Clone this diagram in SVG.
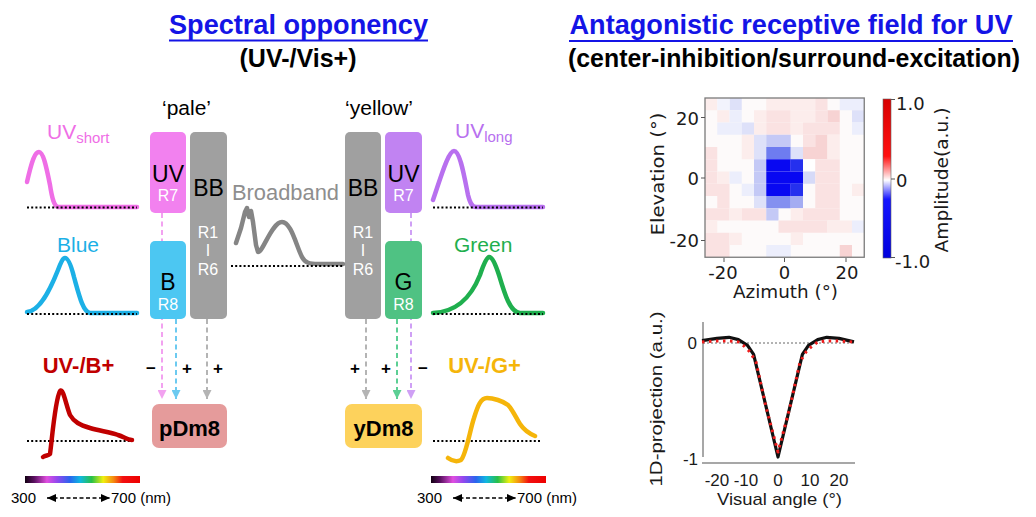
<svg xmlns="http://www.w3.org/2000/svg" width="1036" height="517" viewBox="0 0 1036 517">
<style>
text{font-family:"Liberation Sans",Arial,sans-serif;}
.t{font-weight:bold;font-size:27px;fill:#1414e6;text-anchor:middle;}
.st{font-weight:bold;font-size:25px;fill:#000;text-anchor:middle;}
.lab{font-size:20.5px;fill:#000;text-anchor:middle;}
.big{font-size:23px;fill:#000;text-anchor:middle;}
.rn{font-size:16px;fill:#fff;text-anchor:middle;}
.sign{font-size:17px;font-weight:bold;fill:#000;text-anchor:middle;}
.nm{font-size:15px;fill:#000;}
.dot{fill:none;stroke:#000;stroke-width:2;stroke-dasharray:2 2.2;}
.sp{fill:none;stroke-width:4.5;stroke-linecap:round;stroke-linejoin:round;}
.dj{font-family:"DejaVu Sans",sans-serif;font-size:18px;fill:#1a1a1a;}
.ar{font-family:"Liberation Sans",Arial,sans-serif;font-size:17px;fill:#1a1a1a;}
.con{fill:none;stroke-width:2;stroke-dasharray:5 3.5;}
</style>
<defs>
<linearGradient id="spec" x1="0" y1="0" x2="1" y2="0">
<stop offset="0" stop-color="#120012"/>
<stop offset="0.08" stop-color="#5a1060"/>
<stop offset="0.19" stop-color="#e04ee0"/>
<stop offset="0.28" stop-color="#9248ee"/>
<stop offset="0.39" stop-color="#2a64ee"/>
<stop offset="0.48" stop-color="#10b8e0"/>
<stop offset="0.58" stop-color="#28c048"/>
<stop offset="0.68" stop-color="#f0f010"/>
<stop offset="0.77" stop-color="#f58a10"/>
<stop offset="0.85" stop-color="#f21010"/>
<stop offset="1" stop-color="#ee0000"/>
</linearGradient>
<linearGradient id="cbar" x1="0" y1="0" x2="0" y2="1">
<stop offset="0" stop-color="#d80000"/>
<stop offset="0.36" stop-color="#ff1010"/>
<stop offset="0.51" stop-color="#ffffff"/>
<stop offset="0.63" stop-color="#1515ff"/>
<stop offset="1" stop-color="#0000dd"/>
</linearGradient>
<marker id="mPink" markerUnits="userSpaceOnUse" markerWidth="9" markerHeight="9" refX="9" refY="4.5" orient="auto"><path d="M0,0 L9,4.5 L0,9 z" fill="#f2a2f0"/></marker>
<marker id="mBlue" markerUnits="userSpaceOnUse" markerWidth="9" markerHeight="9" refX="9" refY="4.5" orient="auto"><path d="M0,0 L9,4.5 L0,9 z" fill="#6ccaf0"/></marker>
<marker id="mGray" markerUnits="userSpaceOnUse" markerWidth="9" markerHeight="9" refX="9" refY="4.5" orient="auto"><path d="M0,0 L9,4.5 L0,9 z" fill="#b4b4b4"/></marker>
<marker id="mGreen" markerUnits="userSpaceOnUse" markerWidth="9" markerHeight="9" refX="9" refY="4.5" orient="auto"><path d="M0,0 L9,4.5 L0,9 z" fill="#5ccf94"/></marker>
<marker id="mPurple" markerUnits="userSpaceOnUse" markerWidth="9" markerHeight="9" refX="9" refY="4.5" orient="auto"><path d="M0,0 L9,4.5 L0,9 z" fill="#cfa0f5"/></marker>
<marker id="mBlack" markerUnits="userSpaceOnUse" markerWidth="9" markerHeight="8" refX="9" refY="4" orient="auto-start-reverse"><path d="M0,0 L9,4 L0,8 z" fill="#000"/></marker>
</defs>
<rect width="1036" height="517" fill="#fff"/>

<g id="title-left">
<text class="t" x="298.5" y="34" textLength="259" lengthAdjust="spacingAndGlyphs">Spectral opponency</text>
<rect x="169" y="39.5" width="259" height="2" fill="#1414e6"/>
<text class="st" x="298" y="67">(UV-/Vis+)</text>
</g>
<g id="title-right">
<text class="t" x="791" y="34" textLength="443" lengthAdjust="spacingAndGlyphs">Antagonistic receptive field for UV</text>
<rect x="569" y="40" width="444" height="2" fill="#1414e6"/>
<text class="st" x="794" y="67" textLength="452" lengthAdjust="spacingAndGlyphs">(center-inhibition/surround-excitation)</text>
</g>

<g id="connectors">
<path class="con" stroke="#f2a2f0" d="M162,213 V399" marker-end="url(#mPink)"/>
<path class="con" stroke="#6ccaf0" d="M176,319 V399" marker-end="url(#mBlue)"/>
<path class="con" stroke="#b4b4b4" d="M207,319 V399" marker-end="url(#mGray)"/>
<path class="con" stroke="#b4b4b4" d="M366,319 V399" marker-end="url(#mGray)"/>
<path class="con" stroke="#5ccf94" d="M397,319 V399" marker-end="url(#mGreen)"/>
<path class="con" stroke="#cfa0f5" d="M411,213 V399" marker-end="url(#mPurple)"/>
<text class="sign" x="151" y="374">−</text>
<text class="sign" x="187" y="374">+</text>
<text class="sign" x="218" y="374">+</text>
<text class="sign" x="355" y="374">+</text>
<text class="sign" x="386" y="374">+</text>
<text class="sign" x="423" y="374">−</text>
</g>

<g id="label-pale"><text class="lab" x="186.5" y="115" textLength="49" lengthAdjust="spacingAndGlyphs">‘pale’</text></g>
<g id="label-yellow"><text class="lab" x="379" y="115" textLength="68" lengthAdjust="spacingAndGlyphs">‘yellow’</text></g>

<g id="pale-uv-r7">
<rect x="150" y="132" width="36" height="81" rx="5" fill="#f281ef"/>
<text class="big" x="168" y="182">UV</text>
<text class="rn" x="168" y="201">R7</text>
</g>
<g id="pale-b-r8">
<rect x="150" y="241" width="36" height="78" rx="5" fill="#4cc7f2"/>
<text class="big" x="168" y="290">B</text>
<text class="rn" x="168" y="310">R8</text>
</g>
<g id="pale-bb">
<rect x="190" y="132" width="37" height="187" rx="5" fill="#a0a0a0"/>
<text class="big" x="208.5" y="196">BB</text>
<text class="rn" x="208" y="238">R1</text>
<text class="rn" x="208" y="256">I</text>
<text class="rn" x="208" y="275">R6</text>
</g>
<g id="yellow-bb">
<rect x="345" y="132" width="36" height="187" rx="5" fill="#a0a0a0"/>
<text class="big" x="363" y="196">BB</text>
<text class="rn" x="363" y="238">R1</text>
<text class="rn" x="363" y="256">I</text>
<text class="rn" x="363" y="275">R6</text>
</g>
<g id="yellow-uv-r7">
<rect x="385" y="132" width="37" height="81" rx="5" fill="#c183f2"/>
<text class="big" x="403.5" y="182">UV</text>
<text class="rn" x="403.5" y="201">R7</text>
</g>
<g id="yellow-g-r8">
<rect x="385" y="241" width="37" height="78" rx="5" fill="#4fc283"/>
<text class="big" x="403.5" y="290">G</text>
<text class="rn" x="403.5" y="310">R8</text>
</g>

<g id="pdm8">
<rect x="152" y="404" width="75" height="44" rx="7" fill="#e59b9b"/>
<text x="189.5" y="436" font-size="22" font-weight="bold" text-anchor="middle" fill="#000">pDm8</text>
</g>
<g id="ydm8">
<rect x="345" y="404" width="77" height="44" rx="7" fill="#fdd25c"/>
<text x="383.5" y="436" font-size="22" font-weight="bold" text-anchor="middle" fill="#000">yDm8</text>
</g>

<g id="broadband">
<text x="232" y="200" font-size="22" fill="#8e8e8e" textLength="107" lengthAdjust="spacingAndGlyphs">Broadband</text>
<path class="sp" stroke="#858585" stroke-width="5" d="M236,243 L241,228 L245,212 L247,208 L249,217 L251,211 L253,222 L256,245 L258,252 C263,252 272,222 282,222 C291,222 296,245 302,257 C305,263 310,264 318,264 L343,264"/>
<path class="dot" d="M231,266 H343"/>
</g>

<g id="spec-uv-short">
<text x="47" y="139" font-size="21" fill="#ef6ee6">UV<tspan font-size="15" dy="4">short</tspan></text>
<path class="sp" stroke="#ef6ee6" d="M27,182 C32,160 35,152 39,152 C43,152 46,165 50,185 C52,198 54,206 58,207 L137,207"/>
<path class="dot" d="M27,207.5 H137"/>
</g>
<g id="spec-blue">
<text x="57" y="252" font-size="21" fill="#1cb0e6">Blue</text>
<path class="sp" stroke="#1cb0e6" d="M27,312 C40,311 50,290 58,270 C61,262 63,258 65,258 C68,258 71,265 74,277 C79,295 83,312 90,313 L137,313"/>
<path class="dot" d="M27,314 H137"/>
</g>
<g id="spec-uv-long">
<text x="455" y="138" font-size="21" fill="#b870ef">UV<tspan font-size="15" dy="4">long</tspan></text>
<path class="sp" stroke="#b870ef" d="M433,200 C440,180 448,151 454,151 C460,151 464,175 468,195 C470,203 472,207 476,207 L543,207"/>
<path class="dot" d="M433,207.5 H543"/>
</g>
<g id="spec-green">
<text x="454" y="252" font-size="21" fill="#1faf4e">Green</text>
<path class="sp" stroke="#1faf4e" d="M433,313 C455,312 470,300 480,275 C484,263 487,257 489,257 C492,257 495,263 499,275 C505,295 510,312 520,313 L543,313"/>
<path class="dot" d="M433,314 H543"/>
</g>

<g id="resp-uvb">
<text x="78.5" y="373" font-size="22" font-weight="bold" fill="#c00000" text-anchor="middle">UV-/B+</text>
<path class="dot" d="M27,441 H133"/>
<path class="sp" stroke="#c00000" d="M43,457 C46,455 48,456 50,454 C52,440 55,400 60,391 C63,387 66,405 70,415 C74,422 80,425 90,428 C100,431 110,432 118,435 C124,437 128,440 132,440"/>
<rect x="25" y="476" width="115" height="7" fill="url(#spec)"/>
<text class="nm" x="11" y="503">300</text>
<path d="M47,498 H110" stroke="#000" stroke-width="1.6" stroke-dasharray="4 2.5" marker-start="url(#mBlack)" marker-end="url(#mBlack)"/>
<text class="nm" x="111" y="503">700 (nm)</text>
</g>
<g id="resp-uvg">
<text x="484.5" y="373" font-size="22" font-weight="bold" fill="#f5b50a" text-anchor="middle">UV-/G+</text>
<path class="dot" d="M433,441 H540"/>
<path class="sp" stroke="#f5b50a" d="M448,458 C452,461 457,462 461,460 C466,455 470,430 474,418 C478,405 481,398 487,398 C493,398 503,401 508,405 C513,410 516,418 520,424 C524,430 528,433 535,436"/>
<rect x="431" y="476" width="115" height="7" fill="url(#spec)"/>
<text class="nm" x="417" y="503">300</text>
<path d="M453,498 H516" stroke="#000" stroke-width="1.6" stroke-dasharray="4 2.5" marker-start="url(#mBlack)" marker-end="url(#mBlack)"/>
<text class="nm" x="517" y="503">700 (nm)</text>
</g>

<g id="heatmap">
<g transform="translate(705,98) scale(12.25)">
<g id="hm-cells">
<rect x="0" y="0" width="13" height="13" fill="#fdfafa"/>
<rect x="0" y="0" width="1" height="1" fill="#fcedec"/><rect x="2" y="0" width="1" height="1" fill="#dee1f9"/><rect x="5" y="0" width="4" height="1" fill="#fcedec"/><rect x="9" y="0" width="1" height="1" fill="#fae2e2"/><rect x="11" y="0" width="2" height="1" fill="#eceefc"/><rect x="1" y="0" width="1" height="1" fill="#f2f3fd"/>
<rect x="1" y="1" width="1" height="1" fill="#fcedec"/><rect x="2" y="1" width="1" height="1" fill="#eceefc"/><rect x="4" y="1" width="1" height="1" fill="#fcedec"/><rect x="5" y="1" width="2" height="1" fill="#fae2e2"/><rect x="7" y="1" width="2" height="1" fill="#fcedec"/><rect x="9" y="1" width="1" height="1" fill="#fae2e2"/><rect x="10" y="1" width="1" height="1" fill="#f7d3d3"/><rect x="12" y="1" width="1" height="1" fill="#dee1f9"/>
<rect x="1" y="2" width="2" height="1" fill="#eceefc"/><rect x="3" y="2" width="1" height="1" fill="#dee1f9"/><rect x="4" y="2" width="1" height="1" fill="#fcedec"/><rect x="5" y="2" width="2" height="1" fill="#fae2e2"/><rect x="7" y="2" width="1" height="1" fill="#fcedec"/><rect x="8" y="2" width="3" height="1" fill="#fae2e2"/><rect x="12" y="2" width="1" height="1" fill="#eceefc"/>
<rect x="3" y="3" width="1" height="1" fill="#fcedec"/><rect x="4" y="3" width="1" height="1" fill="#dee1f9"/><rect x="5" y="3" width="2" height="1" fill="#c4c9f6"/><rect x="8" y="3" width="1" height="1" fill="#fae2e2"/><rect x="9" y="3" width="1" height="1" fill="#f7d3d3"/><rect x="10" y="3" width="1" height="1" fill="#fcedec"/>
<rect x="0" y="4" width="1" height="1" fill="#fae2e2"/><rect x="3" y="4" width="1" height="1" fill="#fcedec"/><rect x="4" y="4" width="1" height="1" fill="#dee1f9"/><rect x="5" y="4" width="2" height="1" fill="#6e7cf0"/><rect x="7" y="4" width="1" height="1" fill="#dee1f9"/><rect x="8" y="4" width="2" height="1" fill="#f7d3d3"/><rect x="10" y="4" width="1" height="1" fill="#fcedec"/>
<rect x="0" y="5" width="1" height="1" fill="#fae2e2"/><rect x="4" y="5" width="1" height="1" fill="#c4c9f6"/><rect x="5" y="5" width="2" height="1" fill="#0808f2"/><rect x="7" y="5" width="1" height="1" fill="#2530ee"/><rect x="8" y="5" width="1" height="1" fill="#ffffff"/><rect x="9" y="5" width="2" height="1" fill="#fae2e2"/>
<rect x="0" y="6" width="1" height="1" fill="#fae2e2"/><rect x="1" y="6" width="1" height="1" fill="#fcedec"/><rect x="2" y="6" width="1" height="1" fill="#eceefc"/><rect x="4" y="6" width="1" height="1" fill="#c4c9f6"/><rect x="5" y="6" width="3" height="1" fill="#0808f2"/><rect x="8" y="6" width="1" height="1" fill="#d6daf8"/><rect x="9" y="6" width="2" height="1" fill="#fae2e2"/>
<rect x="0" y="7" width="2" height="1" fill="#fae2e2"/><rect x="3" y="7" width="1" height="1" fill="#eceefc"/><rect x="4" y="7" width="1" height="1" fill="#c4c9f6"/><rect x="5" y="7" width="2" height="1" fill="#0808f2"/><rect x="7" y="7" width="1" height="1" fill="#2530ee"/><rect x="9" y="7" width="2" height="1" fill="#fae2e2"/><rect x="12" y="7" width="1" height="1" fill="#fcedec"/>
<rect x="1" y="8" width="1" height="1" fill="#fae2e2"/><rect x="4" y="8" width="1" height="1" fill="#dee1f9"/><rect x="5" y="8" width="2" height="1" fill="#8490f0"/><rect x="7" y="8" width="1" height="1" fill="#a4acf2"/><rect x="9" y="8" width="2" height="1" fill="#fae2e2"/>
<rect x="0" y="9" width="2" height="1" fill="#fae2e2"/><rect x="2" y="9" width="1" height="1" fill="#fcedec"/><rect x="3" y="9" width="2" height="1" fill="#fae2e2"/><rect x="5" y="9" width="1" height="1" fill="#c4c9f6"/><rect x="7" y="9" width="1" height="1" fill="#fcedec"/><rect x="8" y="9" width="3" height="1" fill="#fae2e2"/>
<rect x="0" y="10" width="1" height="1" fill="#fcedec"/><rect x="6" y="10" width="4" height="1" fill="#fae2e2"/><rect x="10" y="10" width="2" height="1" fill="#fcedec"/><rect x="12" y="10" width="1" height="1" fill="#eceefc"/>
<rect x="0" y="11" width="2" height="1" fill="#fae2e2"/><rect x="2" y="11" width="1" height="1" fill="#fcedec"/><rect x="7" y="11" width="1" height="1" fill="#fcedec"/>
<rect x="0" y="12" width="2" height="1" fill="#fae2e2"/><rect x="5" y="12" width="2" height="1" fill="#eceefc"/><rect x="11" y="12" width="1" height="1" fill="#f7d3d3"/>
</g>
</g>
<rect x="705" y="98" width="159.25" height="159.25" fill="none" stroke="#7a7a7a" stroke-width="1.3"/>
<path d="M701,117.5 H705 M701,178 H705 M701,240.5 H705 M724,258 V262 M784.5,258 V262 M846,258 V262" stroke="#555" stroke-width="1"/>
<text class="dj" x="699" y="124.5" text-anchor="end">20</text>
<text class="dj" x="699" y="184.5" text-anchor="end">0</text>
<text class="dj" x="699" y="247" text-anchor="end">-20</text>
<text class="dj" x="723" y="279" text-anchor="middle">-20</text>
<text class="dj" x="784.5" y="279" text-anchor="middle">0</text>
<text class="dj" x="847" y="279" text-anchor="middle">20</text>
<text class="dj" x="785.5" y="298" text-anchor="middle" textLength="105" lengthAdjust="spacingAndGlyphs">Azimuth (°)</text>
<text class="dj" transform="translate(664,174) rotate(-90)" text-anchor="middle" textLength="123" lengthAdjust="spacingAndGlyphs">Elevation (°)</text>
</g>

<g id="colorbar">
<rect x="883" y="99" width="8" height="159" fill="url(#cbar)" stroke="#666" stroke-width="0.6"/>
<path d="M891,99.5 H895 M891,179 H895 M891,257.5 H895" stroke="#555" stroke-width="1"/>
<text class="dj" x="896" y="110">1.0</text>
<text class="dj" x="896" y="187">0</text>
<text class="dj" x="895" y="268">-1.0</text>
<text class="dj" transform="translate(948,180) rotate(-90)" text-anchor="middle" textLength="145" lengthAdjust="spacingAndGlyphs">Amplitude(a.u.)</text>
</g>

<g id="projection-plot">
<path d="M703,322 V457" stroke="#8a8a8a" stroke-width="1.5"/>
<path d="M702,463 H855" stroke="#8a8a8a" stroke-width="1.5"/>
<path d="M703,343 H855" stroke="#666" stroke-width="1" stroke-dasharray="2 2"/>
<path fill="none" stroke="#111" stroke-width="3.2" stroke-linejoin="round" d="M702,340.7 L717,338.4 L729,337.3 L738.4,339.6 L747.5,345.3 L753.6,354.4 L765.8,405.7 L778,457 L790.2,405.7 L802.4,354.4 L808.5,345.3 L817.7,339.6 L826.8,337.3 L839,338.4 L854,341.9"/>
<path fill="none" stroke="#ee1c1c" stroke-width="3" stroke-dasharray="2.5 4.5" stroke-linejoin="round" d="M702,342 L717,341 L729,341 L738.4,342 L744,346 L750,352 L756,362 L766,407 L778,452 L790,407 L800,362 L806,352 L812,346 L817.7,342 L826.8,341 L839,341 L854,342"/>
<text class="ar" x="697" y="349" text-anchor="end">0</text>
<text class="ar" x="698" y="465" text-anchor="end">-1</text>
<text class="ar" x="717" y="485.5" text-anchor="middle">-20</text>
<text class="ar" x="746" y="485.5" text-anchor="middle">-10</text>
<text class="ar" x="778" y="485.5" text-anchor="middle">0</text>
<text class="ar" x="810" y="485.5" text-anchor="middle">10</text>
<text class="ar" x="839" y="485.5" text-anchor="middle">20</text>
<text class="ar" x="779.5" y="505" font-size="18" text-anchor="middle" textLength="125" lengthAdjust="spacingAndGlyphs">Visual angle (°)</text>
<text class="ar" transform="translate(662,399) rotate(-90)" font-size="19.5" text-anchor="middle" textLength="175" lengthAdjust="spacingAndGlyphs">1D-projection (a.u.)</text>
</g>
</svg>
